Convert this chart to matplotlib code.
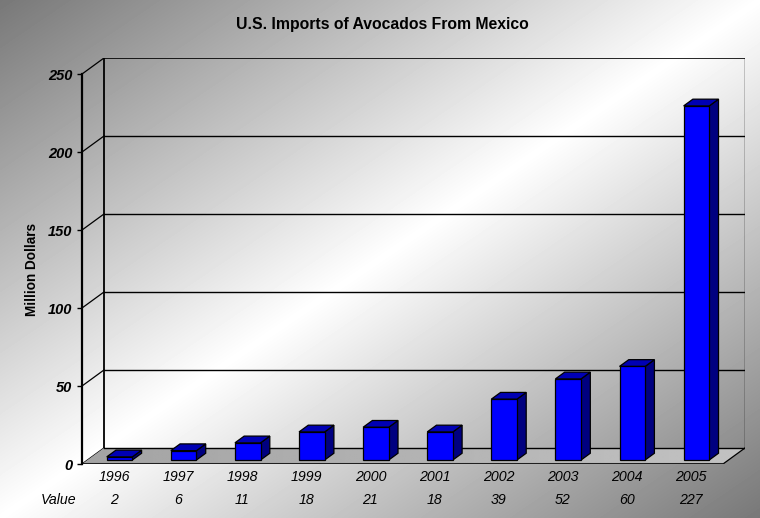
import numpy as np
import matplotlib
matplotlib.use("Agg")
import matplotlib.pyplot as plt
from matplotlib.patches import Polygon
from matplotlib.transforms import blended_transform_factory

# ---- data ----
years = ["1996", "1997", "1998", "1999", "2000", "2001", "2002", "2003", "2004", "2005"]
values = [2, 6, 11, 18, 21, 18, 39, 52, 60, 227]
y_ticks = [0, 50, 100, 150, 200, 250]
title = "U.S. Imports of Avocados From Mexico"
y_label = "Million Dollars"
row_label = "Value"

# ---- figure geometry (pixels) ----
W, H = 760, 518
DPI = 100
X0_PX, XEND_PX, XBACK_PX = 82, 723, 745   # front-left, front-right, back-right
Y0_PX, YTOP_PX = 464, 58                  # floor front, back-wall top

n = len(years)
px_per_cat = (XEND_PX - X0_PX) / n
DX = (XBACK_PX - XEND_PX) / px_per_cat              # depth offset in category units
y_max = y_ticks[-1]
px_per_val = (Y0_PX - 75) / y_max
DY = 16 / px_per_val                                 # depth offset in value units

plt.rcParams["font.family"] = ["Liberation Sans", "DejaVu Sans"]

fig = plt.figure(figsize=(W / DPI, H / DPI), dpi=DPI)

# ---- diagonal gradient background ----
bg = fig.add_axes([0, 0, 1, 1], zorder=0)
gx, gy = np.meshgrid(np.linspace(0, 1, W), np.linspace(0, 1, H))
t = (gx + gy) / 2.0
shade = (120 + 135 * (1 - np.abs(2 * t - 1))) / 255.0
bg.imshow(shade, cmap="gray", vmin=0, vmax=1, aspect="auto",
          extent=[0, 1, 1, 0], interpolation="bilinear")
bg.set_xlim(0, 1)
bg.set_ylim(1, 0)
bg.axis("off")

# ---- main 3-D style axes ----
ax = fig.add_axes([X0_PX / W, (H - Y0_PX) / H,
                   (XBACK_PX - X0_PX) / W, (Y0_PX - YTOP_PX) / H], zorder=1)
ax.patch.set_alpha(0)
ax.set_xlim(0, n + DX)
ax.set_ylim(0, y_max + DY)

# back wall frame and gridlines
for v in y_ticks[1:]:
    lw = 1.2 if v == y_max else 1.0
    ax.plot([DX, n + DX], [v + DY, v + DY], color="black", lw=lw, zorder=2)
ax.plot([DX, DX], [DY, y_max + DY], color="black", lw=1.3, zorder=2)
ax.plot([n + DX, n + DX], [DY, y_max + DY], color="black", lw=1.0, zorder=2)

# side-wall depth lines at each tick
for v in y_ticks:
    ax.plot([0, DX], [v, v + DY], color="black", lw=0.9, zorder=2)

# floor with a soft left-to-right gradient
floor_pts = [(0, 0), (n, 0), (n + DX, DY), (DX, DY)]
floor = Polygon(floor_pts, closed=True, facecolor="none", edgecolor="none")
ax.add_patch(floor)
fg = np.linspace(0.64, 0.76, 256)[None, :]
im = ax.imshow(fg, cmap="gray", vmin=0, vmax=1, aspect="auto",
               extent=[0, n + DX, 0, DY], zorder=3, interpolation="bilinear")
im.set_clip_path(floor)
ax.plot([DX, n + DX], [DY, DY], color="black", lw=1.0, zorder=4)
ax.plot([n, n + DX], [0, DY], color="black", lw=0.9, zorder=4)
ax.plot([0, n], [0, 0], color="#202020", lw=2.2, zorder=4, solid_capstyle="butt")

# bars
half_w = 0.2
f0, f1 = 0.25, 0.67
ox0, oy0 = f0 * DX, f0 * DY
ox1, oy1 = f1 * DX, f1 * DY
for i, v in enumerate(values):
    c = i + 0.5
    xl, xr = c - half_w, c + half_w
    front = [(xl + ox0, oy0), (xr + ox0, oy0), (xr + ox0, v + oy0), (xl + ox0, v + oy0)]
    top = [(xl + ox0, v + oy0), (xr + ox0, v + oy0), (xr + ox1, v + oy1), (xl + ox1, v + oy1)]
    side = [(xr + ox0, oy0), (xr + ox1, oy1), (xr + ox1, v + oy1), (xr + ox0, v + oy0)]
    for pts, col in ((side, "#000080"), (top, "#0000B4"), (front, "#0000FF")):
        ax.add_patch(Polygon(pts, closed=True, facecolor=col, edgecolor="black",
                             lw=0.9, joinstyle="miter", zorder=5))

# front value axis
ax.spines[["top", "right", "bottom"]].set_visible(False)
ax.spines["left"].set_bounds(0, y_max)
ax.spines["left"].set_linewidth(1.6)
ax.spines["left"].set_zorder(6)
ax.set_yticks(y_ticks)
ax.set_yticklabels([str(v) for v in y_ticks], fontsize=10.5,
                   fontweight="bold", fontstyle="italic")
ax.tick_params(axis="y", length=3.8, width=1.0, pad=3.2)

ax.set_xticks(np.arange(n) + 0.5)
ax.set_xticklabels(years, fontsize=10.2, fontstyle="italic")
ax.tick_params(axis="x", length=0, pad=4.5)

# data table row under the categories
row_tr = blended_transform_factory(ax.transData, fig.transFigure)
row_y = 1 - 500 / H
for i, v in enumerate(values):
    ax.text(i + 0.5, row_y, str(v), transform=row_tr, ha="center", va="center",
            fontsize=10.2, fontstyle="italic")
fig.text(59 / W, row_y, row_label, ha="center", va="center",
         fontsize=10.2, fontstyle="italic")

fig.text(382 / W, 1 - 25 / H, title, ha="center", va="center",
         fontsize=11.3, fontweight="bold")
fig.text(32 / W, 1 - 269 / H, y_label, ha="center", va="center",
         rotation=90, fontsize=9.8, fontweight="bold")

fig.savefig("out.png", dpi=DPI)
